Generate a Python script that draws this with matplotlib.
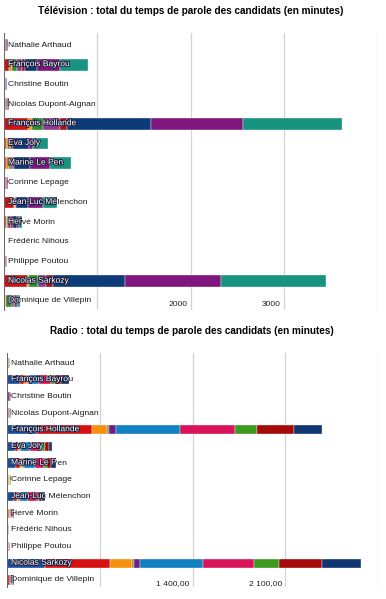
import numpy as np
import matplotlib.pyplot as plt
import matplotlib.patheffects as pe
from matplotlib.patches import Rectangle
from matplotlib.transforms import offset_copy

plt.rcParams['font.family'] = ['Liberation Sans', 'DejaVu Sans']

candidates = ['Nathalie Arthaud', 'François Bayrou', 'Christine Boutin',
              'Nicolas Dupont-Aignan', 'François Hollande', 'Eva Joly',
              'Marine Le Pen', 'Corinne Lepage', 'Jean-Luc Mélenchon',
              'Hervé Morin', 'Frédéric Nihous', 'Philippe Poutou',
              'Nicolas Sarkozy', 'Dominique de Villepin']

# television, minutes per channel (stacked in this order)
tv_tf1 = [10, 54, 5, 8, 258, 20, 20, 8, 110, 20, 2, 5, 247, 15]
tv_fr2 = [3, 32, 3, 5, 43, 25, 30, 3, 5, 10, 1, 3, 20, 10]
tv_fr3 = [3, 54, 3, 5, 118, 15, 20, 3, 5, 15, 1, 3, 97, 60]
tv_canal = [8, 54, 10, 10, 183, 20, 25, 5, 5, 30, 2, 12, 86, 20]
tv_m6 = [12, 32, 5, 12, 75, 15, 15, 12, 5, 20, 1, 5, 75, 10]
tv_bfm = [3, 129, 4, 5, 903, 170, 170, 6, 130, 40, 1, 3, 774, 25]
tv_itele = [3, 247, 3, 5, 978, 50, 215, 4, 160, 30, 1, 2, 1032, 15]
tv_lci = [3, 301, 2, 5, 1065, 160, 220, 4, 150, 25, 1, 2, 1118, 15]
tv_series = [tv_tf1, tv_fr2, tv_fr3, tv_canal, tv_m6, tv_bfm, tv_itele, tv_lci]
tv_colors = ['#cc1414', '#f0901a', '#2e8b2e', '#8e3a96', '#a31515',
             '#0d3a78', '#80177f', '#17937f']

# radio, minutes per station
r_inter = [3, 100, 3, 3, 228, 60, 70, 3, 50, 8, 3, 3, 289, 8]
r_rtl = [3, 30, 3, 10, 411, 20, 30, 3, 25, 5, 2, 10, 487, 12]
r_europe1 = [2, 20, 2, 2, 114, 10, 15, 10, 10, 12, 1, 2, 167, 5]
r_rmc = [10, 5, 2, 2, 15, 5, 5, 5, 5, 5, 1, 1, 15, 3]
r_info = [2, 10, 12, 2, 53, 10, 10, 2, 10, 3, 4, 1, 46, 3]
r_culture = [2, 80, 3, 3, 487, 70, 80, 2, 60, 8, 1, 1, 479, 6]
r_bfm = [1, 90, 2, 3, 411, 90, 70, 1, 65, 5, 1, 1, 380, 5]
r_rfi = [1, 30, 1, 2, 167, 20, 25, 1, 20, 2, 1, 1, 190, 3]
r_sud = [1, 40, 1, 2, 282, 30, 28, 1, 19, 2, 1, 1, 327, 3]
r_bleu = [1, 60, 1, 1, 213, 27, 40, 1, 25, 2, 1, 1, 289, 2]
radio_series = [r_inter, r_rtl, r_europe1, r_rmc, r_info, r_culture,
                r_bfm, r_rfi, r_sud, r_bleu]
radio_colors = ['#1a4fa0', '#d71010', '#f5900f', '#8c8c2a', '#6b1f8a',
                '#1380c2', '#d9135a', '#3c9a1e', '#a50a0a', '#0f3670']

tv_ticks = [0, 1000, 2000, 3000, 4000]
tv_ticklabels = {2000: '2000', 3000: '3000'}
radio_ticks = [0, 700, 1400, 2100, 2800]
radio_ticklabels = {1400: '1 400,00', 2100: '2 100,00'}

fig = plt.figure(figsize=(3.86, 5.99), dpi=100)


def draw(ax, series, colors, ticks, ticklabels, ylim, h):
    n = len(candidates)
    y = np.arange(n)
    left = np.zeros(n)
    for vals, c in zip(series, colors):
        ax.barh(y, vals, left=left, height=h, color=c,
                edgecolor='white', linewidth=0.25, zorder=2)
        left += np.array(vals)
    ax.set_xlim(ticks[0], ticks[-1])
    ax.set_ylim(*ylim)
    ax.set_xticks(ticks)
    ax.set_yticks([])
    ax.tick_params(axis='x', length=0, labelbottom=False)
    ax.grid(axis='x', color='#d4d4d4', linewidth=0.9, zorder=0)
    for s in ['top', 'right', 'bottom']:
        ax.spines[s].set_visible(False)
    ax.spines['left'].set_color('#666666')
    ax.spines['left'].set_linewidth(0.7)
    ax.spines['left'].set_zorder(3)
    tr = offset_copy(ax.transData, fig=fig, x=4, y=0, units='dots')
    for i, name in enumerate(candidates):
        ax.text(0, i, name, transform=tr, fontsize=6.1, color='#1a1a1a',
                va='center', ha='left', zorder=4)
        t = ax.text(0, i, name, transform=tr, fontsize=6.1, color='white',
                    va='center', ha='left', zorder=5, clip_on=True,
                    path_effects=[pe.withStroke(linewidth=1.3,
                                                foreground='#1c1c3c')])
        clip = Rectangle((0, i - h / 2), left[i], h, transform=ax.transData,
                         visible=False)
        ax.add_patch(clip)
        t.set_clip_path(clip)
    trt = offset_copy(ax.transData, fig=fig, x=-3, y=0, units='dots')
    for v, lab in ticklabels.items():
        ax.text(v, n - 1 + 0.2, lab, transform=trt, fontsize=6.1,
                color='#222222', ha='right', va='center', zorder=4)


ax1 = fig.add_axes([4 / 386, 1 - 310 / 599, 373 / 386, 277 / 599])
draw(ax1, tv_series, tv_colors, tv_ticks, tv_ticklabels, (13.46, -0.61), 0.6)
fig.text(0.493, 1 - 11 / 599,
         'Télévision : total du temps de parole des candidats (en minutes)',
         ha='center', va='center', fontsize=7.2, fontweight='bold')

ax2 = fig.add_axes([7 / 386, 1 - 587 / 599, 371 / 386, 234 / 599])
draw(ax2, radio_series, radio_colors, radio_ticks, radio_ticklabels,
     (13.42, -0.6), 0.56)
fig.text(0.497, 1 - 331 / 599,
         'Radio : total du temps de parole des candidats (en minutes)',
         ha='center', va='center', fontsize=7.2, fontweight='bold')

fig.savefig('out.png', dpi=100)
